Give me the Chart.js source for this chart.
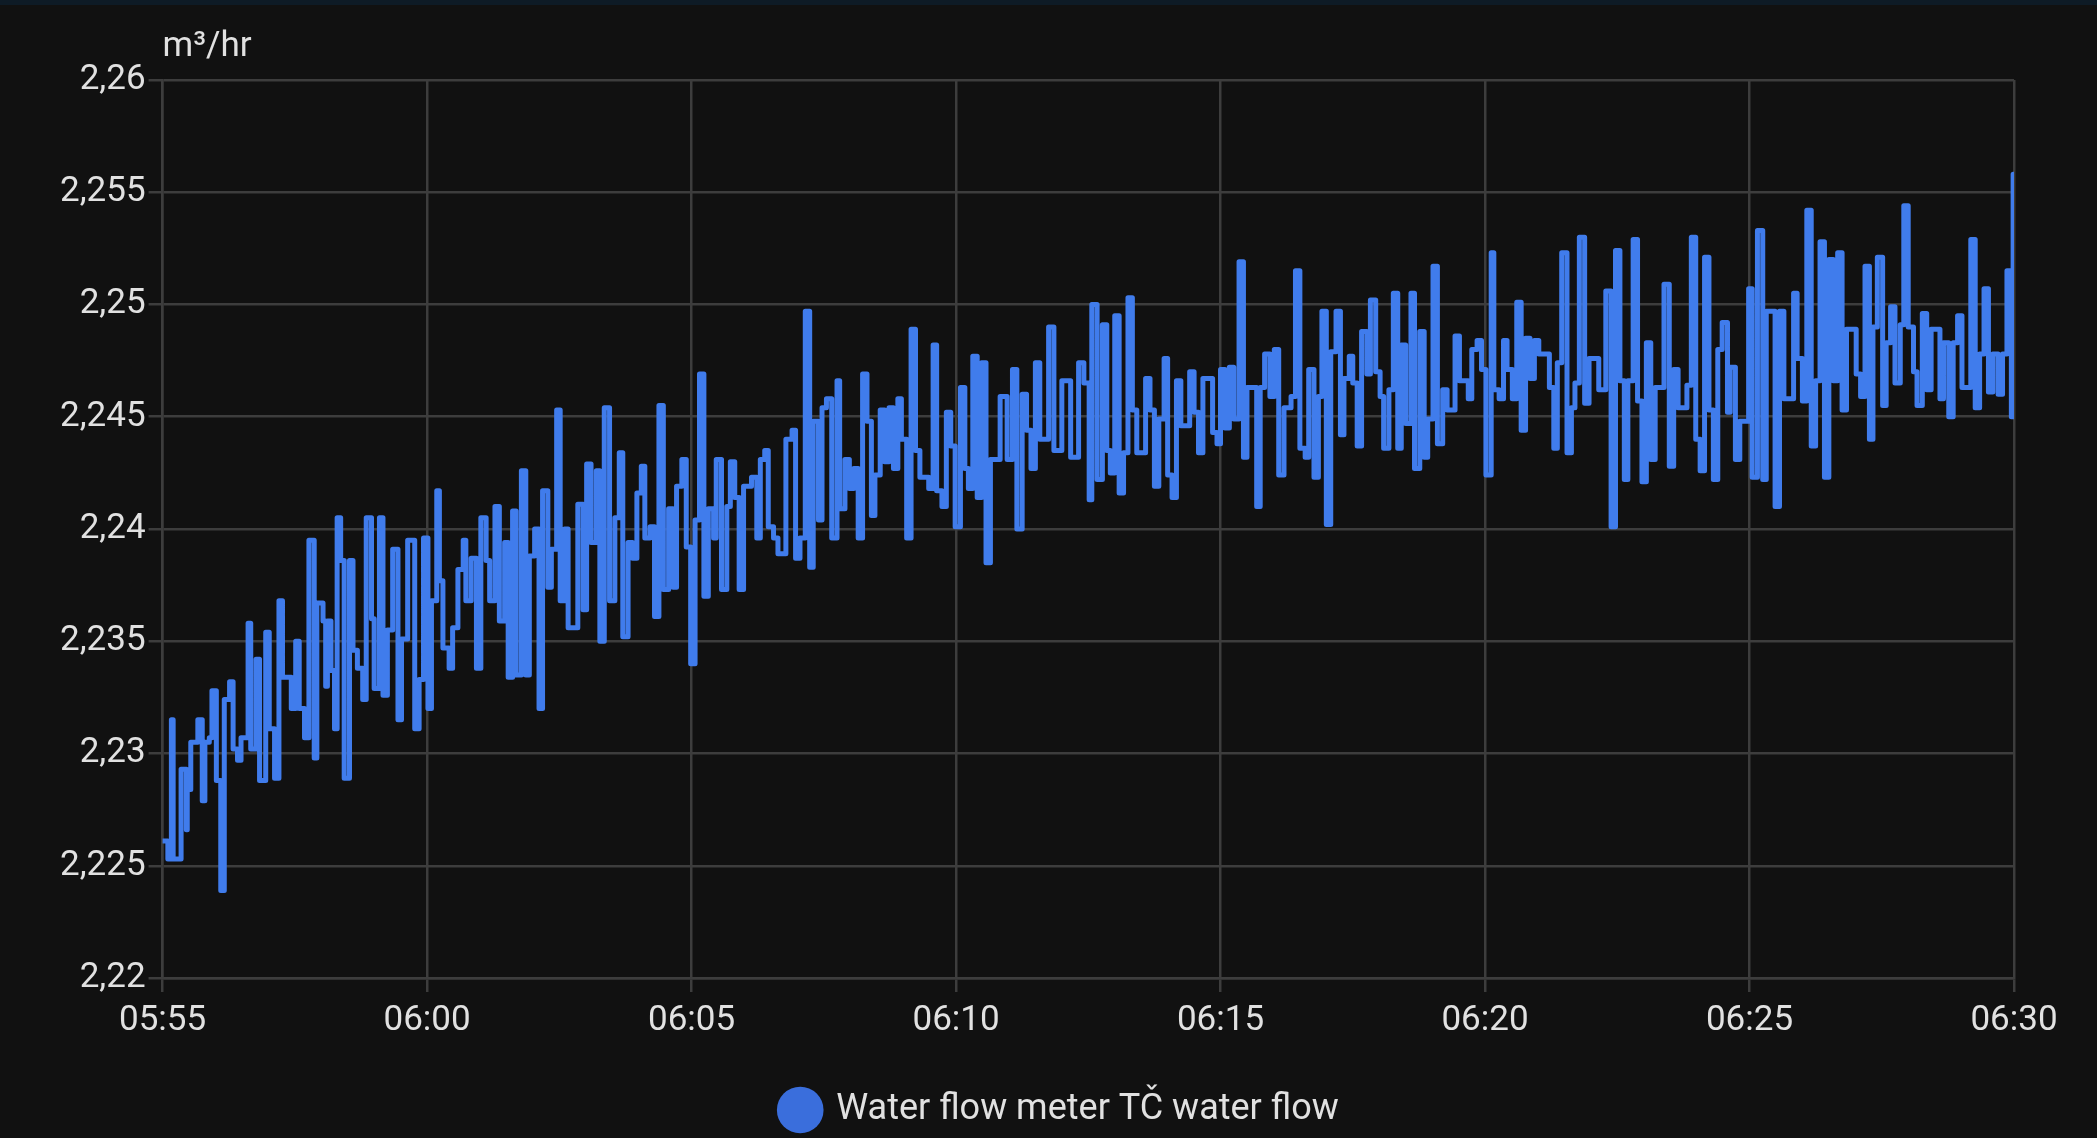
<!DOCTYPE html>
<html lang="cs">
<head>
  <meta charset="UTF-8">
  <script src="https://cdn.jsdelivr.net/npm/chart.js"></script>
  <title>Water flow</title>
  <style>
    html, body { margin: 0; padding: 0; background: #111111; }
    .topbar { position: absolute; left: 0; top: 0; width: 2097px; height: 5px; background: #0e1b26; }
    .wrap { position: relative; width: 2097px; height: 1138px; }
  </style>
</head>
<body>
<div class="wrap">
  <canvas id="flowChart"></canvas>
</div>
<div class="topbar"></div>
<script>
  // seconds since 05:55
  var seconds = [
    0, 6, 10, 12, 21, 27, 28, 32, 40, 45, 48, 53, 56, 61, 66, 70, 76, 80, 85, 89,
    97, 100, 106, 110, 117, 121, 127, 132, 136, 146, 151, 155, 161, 166, 172, 175, 182, 185, 187, 191,
    195, 198, 202, 206, 212, 216, 221, 227, 231, 237, 240, 246, 250, 255, 261, 267, 271, 278, 286, 291,
    296, 301, 305, 311, 314, 318, 325, 329, 335, 341, 344, 350, 356, 361, 367, 371, 377, 382, 388, 392,
    397, 401, 407, 412, 416, 422, 427, 431, 437, 441, 447, 451, 456, 460, 471, 477, 481, 486, 492, 496,
    501, 507, 513, 518, 522, 528, 533, 538, 543, 547, 553, 558, 563, 568, 574, 579, 583, 589, 594, 599,
    604, 609, 614, 619, 625, 628, 634, 640, 644, 649, 654, 659, 668, 674, 678, 683, 687, 693, 698, 707,
    714, 718, 723, 729, 734, 738, 744, 748, 753, 759, 765, 768, 774, 779, 784, 789, 794, 799, 804, 808,
    814, 819, 824, 829, 834, 838, 844, 849, 854, 859, 869, 874, 878, 884, 889, 894, 899, 905, 910, 914,
    919, 924, 929, 934, 939, 950, 958, 964, 969, 975, 980, 985, 990, 995, 1005, 1011, 1020, 1030, 1039, 1045,
    1051, 1054, 1060, 1066, 1071, 1075, 1080, 1085, 1090, 1095, 1100, 1105, 1115, 1120, 1125, 1130, 1136, 1140, 1145, 1150,
    1155, 1165, 1170, 1175, 1180, 1191, 1196, 1200, 1205, 1210, 1215, 1221, 1226, 1230, 1241, 1245, 1250, 1256, 1261, 1266,
    1272, 1280, 1285, 1290, 1296, 1300, 1306, 1311, 1315, 1320, 1325, 1331, 1336, 1340, 1346, 1350, 1355, 1360, 1366, 1370,
    1376, 1381, 1385, 1391, 1396, 1401, 1405, 1410, 1416, 1420, 1426, 1431, 1435, 1441, 1446, 1452, 1457, 1466, 1471, 1481,
    1485, 1491, 1496, 1501, 1507, 1510, 1516, 1521, 1525, 1531, 1536, 1541, 1546, 1551, 1556, 1561, 1573, 1578, 1582, 1587,
    1593, 1598, 1602, 1607, 1613, 1618, 1629, 1637, 1643, 1648, 1653, 1658, 1662, 1668, 1673, 1678, 1683, 1688, 1693, 1703,
    1709, 1714, 1719, 1729, 1734, 1739, 1744, 1749, 1754, 1759, 1764, 1769, 1775, 1778, 1784, 1789, 1799, 1803, 1809, 1815,
    1819, 1829, 1834, 1839, 1850, 1854, 1860, 1865, 1870, 1875, 1880, 1885, 1890, 1895, 1900, 1905, 1910, 1921, 1926, 1931,
    1936, 1940, 1945, 1951, 1955, 1960, 1965, 1971, 1975, 1980, 1986, 1990, 1996, 2001, 2006, 2016, 2020, 2026, 2031, 2036,
    2041, 2051, 2056, 2061, 2066, 2071, 2076, 2082, 2087, 2092, 2097, 2099, 2100
  ]

  // m³/hr
  var flow = [
    2.2261, 2.2253, 2.2315, 2.2253, 2.2293, 2.2266, 2.2284, 2.2305, 2.2315, 2.2279, 2.2305, 2.2307, 2.2328, 2.2288, 2.2239, 2.2324, 2.2332, 2.2302, 2.2297, 2.2307,
    2.2358, 2.2302, 2.2342, 2.2288, 2.2354, 2.2311, 2.2289, 2.2368, 2.2334, 2.2320, 2.2350, 2.2320, 2.2307, 2.2395, 2.2298, 2.2367, 2.2359, 2.2330, 2.2359, 2.2337,
    2.2311, 2.2405, 2.2386, 2.2289, 2.2386, 2.2346, 2.2338, 2.2324, 2.2405, 2.2360, 2.2329, 2.2405, 2.2326, 2.2355, 2.2391, 2.2315, 2.2351, 2.2395, 2.2311, 2.2333,
    2.2396, 2.2320, 2.2368, 2.2417, 2.2377, 2.2347, 2.2338, 2.2356, 2.2382, 2.2395, 2.2368, 2.2387, 2.2338, 2.2405, 2.2386, 2.2368, 2.2410, 2.2359, 2.2394, 2.2334,
    2.2408, 2.2335, 2.2426, 2.2335, 2.2388, 2.2400, 2.2320, 2.2417, 2.2374, 2.2391, 2.2453, 2.2368, 2.2400, 2.2356, 2.2411, 2.2364, 2.2429, 2.2394, 2.2426, 2.2350,
    2.2454, 2.2368, 2.2405, 2.2434, 2.2352, 2.2394, 2.2387, 2.2416, 2.2428, 2.2396, 2.2401, 2.2361, 2.2455, 2.2373, 2.2409, 2.2374, 2.2419, 2.2431, 2.2392, 2.2340,
    2.2404, 2.2469, 2.2370, 2.2409, 2.2396, 2.2431, 2.2373, 2.2410, 2.2430, 2.2414, 2.2373, 2.2419, 2.2423, 2.2396, 2.2431, 2.2435, 2.2401, 2.2396, 2.2389, 2.2440,
    2.2444, 2.2387, 2.2396, 2.2497, 2.2383, 2.2448, 2.2404, 2.2454, 2.2458, 2.2396, 2.2466, 2.2409, 2.2431, 2.2418, 2.2427, 2.2396, 2.2469, 2.2448, 2.2406, 2.2424,
    2.2453, 2.2430, 2.2454, 2.2427, 2.2458, 2.2440, 2.2396, 2.2489, 2.2435, 2.2423, 2.2418, 2.2482, 2.2417, 2.2410, 2.2452, 2.2437, 2.2401, 2.2463, 2.2427, 2.2418,
    2.2477, 2.2414, 2.2474, 2.2385, 2.2431, 2.2459, 2.2431, 2.2471, 2.2400, 2.2460, 2.2444, 2.2427, 2.2474, 2.2440, 2.2490, 2.2435, 2.2466, 2.2432, 2.2474, 2.2465,
    2.2413, 2.2500, 2.2422, 2.2491, 2.2435, 2.2425, 2.2495, 2.2416, 2.2434, 2.2503, 2.2453, 2.2434, 2.2467, 2.2453, 2.2419, 2.2449, 2.2476, 2.2424, 2.2414, 2.2466,
    2.2446, 2.2470, 2.2452, 2.2434, 2.2467, 2.2443, 2.2438, 2.2471, 2.2445, 2.2472, 2.2449, 2.2519, 2.2432, 2.2463, 2.2410, 2.2463, 2.2478, 2.2459, 2.2480, 2.2424,
    2.2454, 2.2459, 2.2515, 2.2436, 2.2432, 2.2471, 2.2423, 2.2459, 2.2497, 2.2402, 2.2479, 2.2497, 2.2442, 2.2467, 2.2477, 2.2465, 2.2437, 2.2488, 2.2469, 2.2502,
    2.2470, 2.2459, 2.2436, 2.2462, 2.2505, 2.2436, 2.2482, 2.2447, 2.2505, 2.2427, 2.2488, 2.2432, 2.2449, 2.2517, 2.2438, 2.2462, 2.2453, 2.2486, 2.2466, 2.2458,
    2.2480, 2.2484, 2.2471, 2.2424, 2.2523, 2.2462, 2.2458, 2.2484, 2.2471, 2.2458, 2.2501, 2.2444, 2.2485, 2.2467, 2.2484, 2.2478, 2.2463, 2.2436, 2.2474, 2.2523,
    2.2434, 2.2454, 2.2465, 2.2530, 2.2456, 2.2476, 2.2462, 2.2506, 2.2401, 2.2524, 2.2466, 2.2422, 2.2466, 2.2529, 2.2457, 2.2421, 2.2483, 2.2431, 2.2463, 2.2509,
    2.2428, 2.2471, 2.2454, 2.2464, 2.2530, 2.2440, 2.2426, 2.2521, 2.2453, 2.2422, 2.2480, 2.2492, 2.2452, 2.2472, 2.2431, 2.2448, 2.2507, 2.2423, 2.2533, 2.2422,
    2.2497, 2.2410, 2.2497, 2.2458, 2.2505, 2.2476, 2.2457, 2.2542, 2.2437, 2.2466, 2.2528, 2.2423, 2.2520, 2.2466, 2.2523, 2.2453, 2.2489, 2.2469, 2.2459, 2.2517,
    2.2440, 2.2490, 2.2521, 2.2455, 2.2483, 2.2499, 2.2465, 2.2491, 2.2544, 2.2490, 2.2470, 2.2455, 2.2496, 2.2462, 2.2489, 2.2458, 2.2483, 2.2450, 2.2483, 2.2495,
    2.2463, 2.2529, 2.2454, 2.2478, 2.2507, 2.2461, 2.2478, 2.2460, 2.2478, 2.2515, 2.2450, 2.2558, 2.2558
  ]

  var timeLabels = ["05:55", "06:00", "06:05", "06:10", "06:15", "06:20", "06:25", "06:30"]
  var seriesName = "Water flow meter TČ water flow"
  var unitLabel = "m³/hr"

  var textColor = "#e1e1e1"
  var lineColor = "#407cec"
  var legendColor = "#3a6edc"

  var puntos = []
  for (var i = 0; i < seconds.length; i++) {
    puntos.push({ x: seconds[i], y: flow[i] })
  }

  // jednotka nad osou Y
  const unitTitle = {
    id: "unitTitle",
    afterLayout(chart) {
      // legenda je v originale trochu vpravo od stredu
      chart.legend.left += 25
      chart.legend.right += 25
    },
    afterDraw(chart) {
      const ctx = chart.ctx
      ctx.save()
      ctx.font = "35px Roboto"
      ctx.fillStyle = textColor
      ctx.textAlign = "left"
      ctx.textBaseline = "alphabetic"
      ctx.fillText(unitLabel, chart.chartArea.left, 56)
      ctx.restore()
    }
  }

  Chart.defaults.font.family = "Roboto"
  Chart.defaults.font.size = 35
  Chart.defaults.color = textColor

  const ctx = document.getElementById("flowChart")
  const flowChart = new Chart(ctx, {
    type: "line",
    data: {
      datasets: [{
        label: seriesName,
        data: puntos,
        borderColor: lineColor,
        backgroundColor: legendColor,
        borderWidth: 5,
        borderJoinStyle: "round",
        borderCapStyle: "round",
        pointRadius: 0,
        stepped: "before",
        tension: 0,
        fill: false,
      }],
    },
    options: {
      responsive: true,
      maintainAspectRatio: false,
      animation: false,
      devicePixelRatio: 1,
      layout: {
        padding: { top: 80, right: 83, left: 57, bottom: 0 }
      },
      scales: {
        x: {
          type: "linear",
          min: 0,
          max: 2100,
          ticks: {
            stepSize: 300,
            padding: 8,
            maxRotation: 0,
            callback: function (value) {
              return timeLabels[Math.round(value / 300)]
            }
          },
          grid: { color: "#3d3d3d", lineWidth: 2.5, tickLength: 14 },
          border: { color: "#3d3d3d", width: 2.5 },
        },
        y: {
          min: 2.22,
          max: 2.26,
          ticks: {
            stepSize: 0.005,
            padding: 3,
            callback: function (value) {
              return String(Number(value.toFixed(3))).replace(".", ",")
            }
          },
          grid: { color: "#3d3d3d", lineWidth: 2.5, tickLength: 14 },
          border: { color: "#3d3d3d", width: 2.5 },
        },
      },
      plugins: {
        tooltip: { enabled: false },
        legend: {
          position: "bottom",
          labels: {
            usePointStyle: true,
            pointStyle: "circle",
            boxHeight: 33,
            padding: 42,
            color: textColor,
            font: { size: 36 },
            generateLabels: function (chart) {
              var items = Chart.defaults.plugins.legend.labels.generateLabels(chart)
              items.forEach(function (it) {
                it.fillStyle = legendColor
                it.strokeStyle = legendColor
                it.lineWidth = 0
              })
              return items
            }
          }
        }
      }
    },
    plugins: [unitTitle]
  })
</script>
</body>
</html>
